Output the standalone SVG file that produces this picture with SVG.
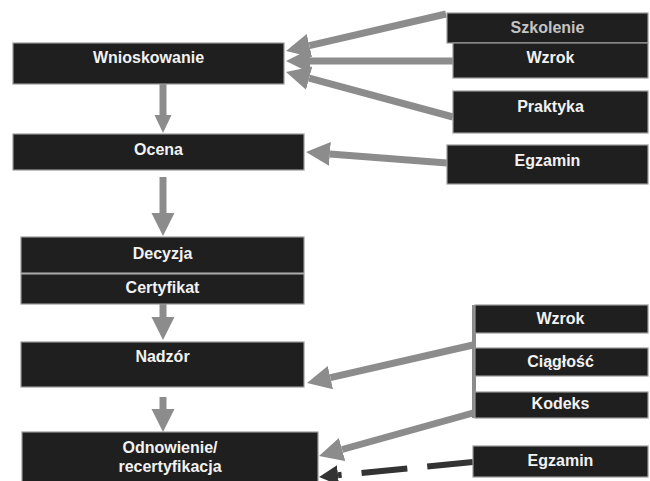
<svg xmlns="http://www.w3.org/2000/svg" width="650" height="481" viewBox="0 0 650 481">
  <defs>
    <style>
      .box { fill: #1f1f1f; stroke: #9a9a9a; stroke-width: 1.2; }
      .lbl { font-family: "Liberation Sans", Arial, sans-serif; font-size: 16px; font-weight: bold; fill: #f2f2f2; text-anchor: middle; }
      .dim { fill: #c4c4c4; }
      .arr { stroke: #8c8c8c; stroke-width: 7; fill: none; }
      .dash { stroke: #333333; stroke-width: 6; fill: none; stroke-dasharray: 46 20; }
    </style>
    <marker id="hb" markerUnits="userSpaceOnUse" markerWidth="26" markerHeight="26" refX="0" refY="12" orient="auto">
      <path d="M0,0 L24,12 L0,24 Z" fill="#8c8c8c"/>
    </marker>
    <marker id="hv" markerUnits="userSpaceOnUse" markerWidth="26" markerHeight="26" refX="0" refY="11.5" orient="auto">
      <path d="M0,0 L23,11.5 L0,23 Z" fill="#8c8c8c"/>
    </marker>
    <marker id="hs" markerUnits="userSpaceOnUse" markerWidth="20" markerHeight="20" refX="0" refY="8.5" orient="auto">
      <path d="M0,0 L18,8.5 L0,17 Z" fill="#8c8c8c"/>
    </marker>
    <marker id="hd" markerUnits="userSpaceOnUse" markerWidth="22" markerHeight="22" refX="0" refY="10" orient="auto">
      <path d="M0,0 L19,10 L0,20 Z" fill="#333333"/>
    </marker>
  </defs>
  <rect width="650" height="481" fill="#ffffff"/>

  <g id="connectors">
    <line class="arr" x1="446" y1="14" x2="309.4" y2="45.6" marker-end="url(#hb)"/>
    <line class="arr" x1="453" y1="61" x2="310" y2="61" marker-end="url(#hb)"/>
    <line class="arr" x1="453" y1="117" x2="309.2" y2="78.2" marker-end="url(#hb)"/>
    <line class="arr" x1="447" y1="163" x2="329.9" y2="153.9" marker-end="url(#hb)"/>
    <line class="arr" x1="163" y1="84" x2="163" y2="115" marker-end="url(#hs)"/>
    <line class="arr" x1="163" y1="177" x2="163" y2="213" stroke-width="8" marker-end="url(#hv)"/>
    <line class="arr" x1="163" y1="304" x2="163" y2="317" stroke-width="8" marker-end="url(#hv)"/>
    <line class="arr" x1="163" y1="397" x2="163" y2="409" stroke-width="8" marker-end="url(#hv)"/>
    <line x1="474" y1="305" x2="474" y2="418" stroke="#8c8c8c" stroke-width="4"/>
    <line class="arr" x1="473" y1="345" x2="330.4" y2="377.6" marker-end="url(#hb)"/>
    <line class="arr" x1="473" y1="413" x2="342.1" y2="449.5" marker-end="url(#hb)"/>
    <line class="dash" x1="473" y1="462" x2="338" y2="475.2" marker-end="url(#hd)"/>
  </g>

  <g id="wnioskowanie"><rect class="box" x="13" y="43" width="271" height="41"/><text class="lbl" x="148.5" y="63">Wnioskowanie</text></g>
  <g id="ocena"><rect class="box" x="13" y="134" width="291" height="36"/><text class="lbl" x="158.5" y="155">Ocena</text></g>
  <g id="decyzja"><rect class="box" x="21" y="237" width="283" height="36"/><text class="lbl" x="162.5" y="259">Decyzja</text></g>
  <g id="certyfikat"><rect class="box" x="21" y="274" width="283" height="30"/><text class="lbl" x="162.5" y="293">Certyfikat</text></g>
  <g id="nadzor"><rect class="box" x="21" y="342" width="283" height="45"/><text class="lbl" x="162.5" y="362">Nadzór</text></g>
  <g id="odnowienie"><rect class="box" x="22" y="432" width="296" height="54"/><text class="lbl" x="170" y="453">Odnowienie/</text><text class="lbl" x="170" y="472">recertyfikacja</text></g>

  <g id="szkolenie"><rect class="box" x="447" y="13" width="201" height="30"/><text class="lbl dim" x="547.5" y="33">Szkolenie</text></g>
  <g id="wzrok1"><rect class="box" x="453" y="43" width="195" height="35"/><text class="lbl" x="550.5" y="63">Wzrok</text></g>
  <g id="praktyka"><rect class="box" x="453" y="91" width="195" height="42"/><text class="lbl" x="550.5" y="112">Praktyka</text></g>
  <g id="egzamin1"><rect class="box" x="447" y="145" width="201" height="39"/><text class="lbl" x="547.5" y="166">Egzamin</text></g>
  <g id="wzrok2"><rect class="box" x="475" y="305" width="173" height="28"/><text class="lbl" x="560.5" y="324">Wzrok</text></g>
  <g id="ciaglosc"><rect class="box" x="475" y="348" width="173" height="28"/><text class="lbl" x="560.5" y="367">Ciągłość</text></g>
  <g id="kodeks"><rect class="box" x="475" y="392" width="173" height="26"/><text class="lbl" x="560.5" y="409">Kodeks</text></g>
  <g id="egzamin2"><rect class="box" x="473" y="446" width="175" height="31"/><text class="lbl" x="560.5" y="466">Egzamin</text></g>
</svg>
